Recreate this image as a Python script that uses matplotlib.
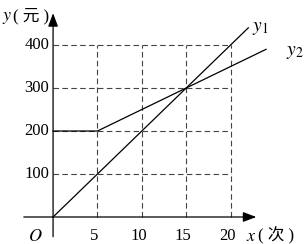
import matplotlib.pyplot as plt

plt.rcParams['mathtext.fontset'] = 'stix'

x_ticks = [5, 10, 15, 20]
y_ticks = [100, 200, 300, 400]
y1_x = [0, 22]
y1_y = [0, 440]
y2_x = [0, 5, 24]
y2_y = [200, 200, 390]

serif = ['Liberation Serif', 'Noto Sans CJK SC']

fig = plt.figure(figsize=(3.06, 2.44), dpi=100)
ax = fig.add_axes([0, 0, 1, 1])
ax.set_xlim(-5.98, 28.5)
ax.set_ylim(-62.8, 504.7)
ax.axis('off')

# dashed grid
for xv in x_ticks:
    ax.plot([xv, xv], [0, max(y_ticks)], color='#444444', lw=0.8,
            dashes=(5, 3))
for yv in y_ticks:
    ax.plot([0, max(x_ticks)], [yv, yv], color='#444444', lw=0.8,
            dashes=(5, 3))

# axes with arrows
ax.annotate('', xy=(22.9, 0), xytext=(-3.3, 0),
            arrowprops=dict(arrowstyle='-|>,head_length=0.8,head_width=0.3',
                            color='black', lw=0.9, shrinkA=0, shrinkB=0))
ax.annotate('', xy=(0, 474), xytext=(0, -46),
            arrowprops=dict(arrowstyle='-|>,head_length=0.8,head_width=0.3',
                            color='black', lw=0.9, shrinkA=0, shrinkB=0))

ax.plot(y1_x, y1_y, color='black', lw=0.9)
ax.plot(y2_x, y2_y, color='black', lw=0.9)

for yv in y_ticks:
    ax.text(-0.45, yv, str(yv), ha='right', va='center', fontsize=12,
            family=serif)
for xv in x_ticks:
    ax.text(xv - 0.35, -44, str(xv), ha='center', va='center', fontsize=12,
            family=serif)

ax.text(-1.2, -44, '$O$', ha='right', va='center', fontsize=13)
ax.text(-5.7, 465, '$y$', ha='left', va='center', fontsize=13)
ax.text(-4.5, 467, '( 元 )', ha='left', va='center', fontsize=12,
        family=serif)
ax.text(21.7, -45, '$x$', ha='left', va='center', fontsize=13)
ax.text(23.1, -43, '( 次 )', ha='left', va='center', fontsize=12,
        family=serif)

ax.text(22.4, 440, '$y_1$', ha='left', va='center', fontsize=14)
ax.text(26.3, 385, '$y_2$', ha='left', va='center', fontsize=14)

fig.savefig('out.png', dpi=100)
